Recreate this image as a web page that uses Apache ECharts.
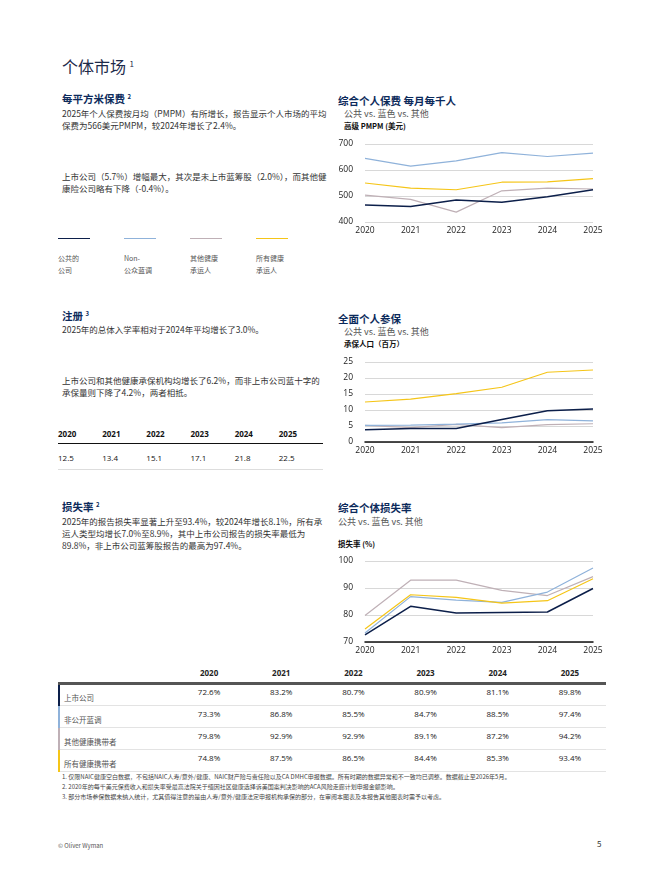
<!DOCTYPE html>
<html><head><meta charset="utf-8">
<script src="https://cdn.jsdelivr.net/npm/echarts@6/dist/echarts.min.js"></script>
<style>
body{margin:0;width:660px;height:880px;background:#fff;font-family:"Noto Sans CJK SC","Noto Sans",sans-serif;position:relative;overflow:hidden}
.a{position:absolute}
.h{color:#0c2a5b;font-weight:bold;font-size:10.5px}
.p{color:#333;font-size:8.5px;line-height:12px;font-family:"Noto Sans CJK SC",serif}
.s{color:#555;font-size:9px}
.u{color:#111;font-weight:bold;font-size:7.5px}
sup{font-size:6px}
table{border-collapse:collapse;font-family:"Open Sans",sans-serif}
#tbl td,#tbl th{line-height:10px}
</style></head><body>
<div class="a" style="left:62px;top:54px;font-size:16px;color:#1d2a4a;font-family:'Noto Sans CJK SC',serif">个体市场 <sup style="font-size:8px">1</sup></div>

<div class="a h" style="left:62px;top:91px">每平方米保费 <sup>2</sup></div>
<div class="a p" style="left:62px;top:107px;width:265px">2025年个人保费按月均（PMPM）有所增长，报告显示个人市场的平均保费为566美元PMPM，较2024年增长了2.4%。</div>
<div class="a p" style="left:62px;top:170px;width:265px">上市公司（5.7%）增幅最大，其次是未上市蓝筹股（2.0%），而其他健康险公司略有下降（-0.4%）。</div>
<div id="leg" class="a" style="left:58px;top:238px;width:270px;height:40px"></div>

<div class="a h" style="left:62px;top:308px">注册 <sup>3</sup></div>
<div class="a p" style="left:62px;top:323px;width:265px">2025年的总体入学率相对于2024年平均增长了3.0%。</div>
<div class="a p" style="left:62px;top:374px;width:265px">上市公司和其他健康承保机构均增长了6.2%，而非上市公司蓝十字的承保量则下降了4.2%，两者相抵。</div>
<div id="enr" class="a" style="left:58px;top:424px;width:265px;height:50px"></div>

<div class="a h" style="left:62px;top:499px">损失率 <sup>2</sup></div>
<div class="a p" style="left:62px;top:515px;width:265px">2025年的报告损失率显著上升至93.4%，较2024年增长8.1%，所有承运人类型均增长7.0%至8.9%，其中上市公司报告的损失率最低为89.8%，非上市公司蓝筹股报告的最高为97.4%。</div>

<div class="a h" style="left:338px;top:93px">综合个人保费 每月每千人</div>
<div class="a s" style="left:344px;top:107px">公共 vs. 蓝色 vs. 其他</div>
<div class="a u" style="left:344px;top:120px">高级 PMPM (美元)</div>
<div id="c1" class="a" style="left:330px;top:130px;width:280px;height:110px"></div>

<div class="a h" style="left:338px;top:311px">全面个人参保</div>
<div class="a s" style="left:344px;top:325px">公共 vs. 蓝色 vs. 其他</div>
<div class="a u" style="left:344px;top:338px">承保人口（百万）</div>
<div id="c2" class="a" style="left:330px;top:350px;width:280px;height:110px"></div>

<div class="a h" style="left:338px;top:500px">综合个体损失率</div>
<div class="a s" style="left:338px;top:515px">公共 vs. 蓝色 vs. 其他</div>
<div class="a u" style="left:338px;top:538px">损失率 (%)</div>
<div id="c3" class="a" style="left:330px;top:550px;width:280px;height:110px"></div>

<div id="tbl" class="a" style="left:58px;top:666px;width:548px"></div>
<div class="a" style="left:62px;top:772px;font-size:6px;color:#444;line-height:10px;font-family:'Noto Sans CJK SC',serif">
1. 仅限NAIC健康空白数据，不包括NAIC人寿/意外/健康、NAIC财产险与责任险以及CA DMHC申报数据。所有时期的数据异常和不一致均已调整。数据截止至2026年5月。<br>
2. 2020年的每千美元保费收入和损失率受最高法院关于缅因社区健康选择诉美国案判决影响的ACA风险走廊计划申报金额影响。<br>
3. 部分市场参保数据未纳入统计，尤其值得注意的是由人寿/意外/健康法定申报机构承保的部分，在审阅本图表及本报告其他图表时需予以考虑。</div>
<div class="a" style="left:58px;top:841px;font-size:6px;color:#555">© Oliver Wyman</div>
<div class="a" style="left:597px;top:838px;font-size:8px;color:#333">5</div>

<script>
var years = ['2020', '2021', '2022', '2023', '2024', '2025'];
var seriesNames = ['公共的\n公司', 'Non-\n公众蓝调', '其他健康\n承运人', '所有健康\n承运人'];
var rowNames = ['上市公司', '非公开蓝调', '其他健康携带者', '所有健康携带者'];
var colors = ['#0c1f4a', '#8fb2da', '#bfb0b6', '#f5c518'];

var pmpmPublic = [465, 460, 485, 476, 497, 524];
var pmpmBlue = [645, 615, 635, 667, 652, 665];
var pmpmOther = [503, 487, 438, 520, 530, 527];
var pmpmAll = [550, 530, 524, 553, 554, 567];

var enrPublic = [3.8, 4.2, 4.2, 7.0, 9.8, 10.3];
var enrBlue = [5.2, 5.3, 5.6, 6.0, 7.0, 6.6];
var enrOther = [5.2, 4.5, 5.5, 4.5, 5.4, 5.7];
var enrAll = [12.5, 13.4, 15.1, 17.1, 21.8, 22.5];

var lossPublic = [72.6, 83.2, 80.7, 80.9, 81.1, 89.8];
var lossBlue = [73.3, 86.8, 85.5, 84.7, 88.5, 97.4];
var lossOther = [79.8, 92.9, 92.9, 89.1, 87.2, 94.2];
var lossAll = [74.8, 87.5, 86.5, 84.4, 85.3, 93.4];

// legend row: short lines with labels under them
var leg = '';
seriesNames.forEach(function (n, i) {
    leg += '<div style="position:absolute;left:' + (i * 66) + 'px;top:0;width:32px;border-top:' + (i == 0 ? 1.5 : 1) + 'px solid ' + colors[i] + '"></div>';
    leg += '<div class="p" style="position:absolute;left:' + (i * 66) + 'px;top:14px;font-size:7px;color:#555;line-height:12px;white-space:pre">' + n + '</div>';
});
document.getElementById('leg').innerHTML = leg;

var enr = '<table style="width:265px;font-size:8px;color:#111"><tr>';
years.forEach(function (y) { enr += '<th style="text-align:left;padding:4px 0;border-bottom:1.5px solid #111">' + y + '</th>'; });
enr += '</tr><tr>';
enrAll.forEach(function (v) { enr += '<td style="padding:8px 0 6px;border-bottom:1px solid #ddd">' + v.toFixed(1) + '</td>'; });
document.getElementById('enr').innerHTML = enr + '</tr></table>';

var lossRows = [lossPublic, lossBlue, lossOther, lossAll];
var t = '<table style="width:548px;font-size:8px;color:#222"><tr><th style="width:112px;height:14px;border-bottom:3px solid #555"></th>';
years.forEach(function (y) { t += '<th style="padding:0 0 3px;border-bottom:3px solid #555;text-align:center">' + y + '</th>'; });
t += '</tr>';
lossRows.forEach(function (r, i) {
    t += '<tr style="height:22px"><td style="border-left:2px solid ' + colors[i] + ';padding:6px 4px 0;font-family:\'Noto Sans CJK SC\',serif;font-size:7.5px;color:#555;border-bottom:1px solid #e3e3e3">' + rowNames[i] + '</td>';
    r.forEach(function (v) { t += '<td style="text-align:center;padding:0 0 6px;border-bottom:1px solid #e3e3e3">' + v.toFixed(1) + '%</td>'; });
    t += '</tr>';
});
document.getElementById('tbl').innerHTML = t + '</table>';

function lineChart(id, data, yMin, yMax, step, gridTop, axisLine) {
    var chart = echarts.init(document.getElementById(id));
    chart.setOption({
        animation: false,
        grid: { left: 35, right: 17, top: gridTop, bottom: 18 },
        xAxis: {
            type: 'category', boundaryGap: false, data: years,
            axisTick: { show: false },
            axisLine: { show: axisLine, lineStyle: { color: '#111', width: 1.5 } },
            axisLabel: { color: '#222', fontSize: 8.5, fontFamily: 'Open Sans', margin: 4 }
        },
        yAxis: {
            type: 'value', min: yMin, max: yMax, interval: step,
            axisLabel: { color: '#222', fontSize: 8.5, fontFamily: 'Open Sans', margin: 12 },
            splitLine: { lineStyle: { color: '#d8d8d8' } }
        },
        series: data.map(function (d, i) {
            return { type: 'line', data: d, symbol: 'none', z: [4, 2, 1, 3][i],
                lineStyle: { color: colors[i], width: i == 0 ? 1.5 : 1.2 } };
        })
    });
}
lineChart('c1', [pmpmPublic, pmpmBlue, pmpmOther, pmpmAll], 400, 700, 100, 14, false);
lineChart('c2', [enrPublic, enrBlue, enrOther, enrAll], 0, 25, 5, 12, true);
lineChart('c3', [lossPublic, lossBlue, lossOther, lossAll], 70, 100, 10, 11, true);
</script>
</body></html>
